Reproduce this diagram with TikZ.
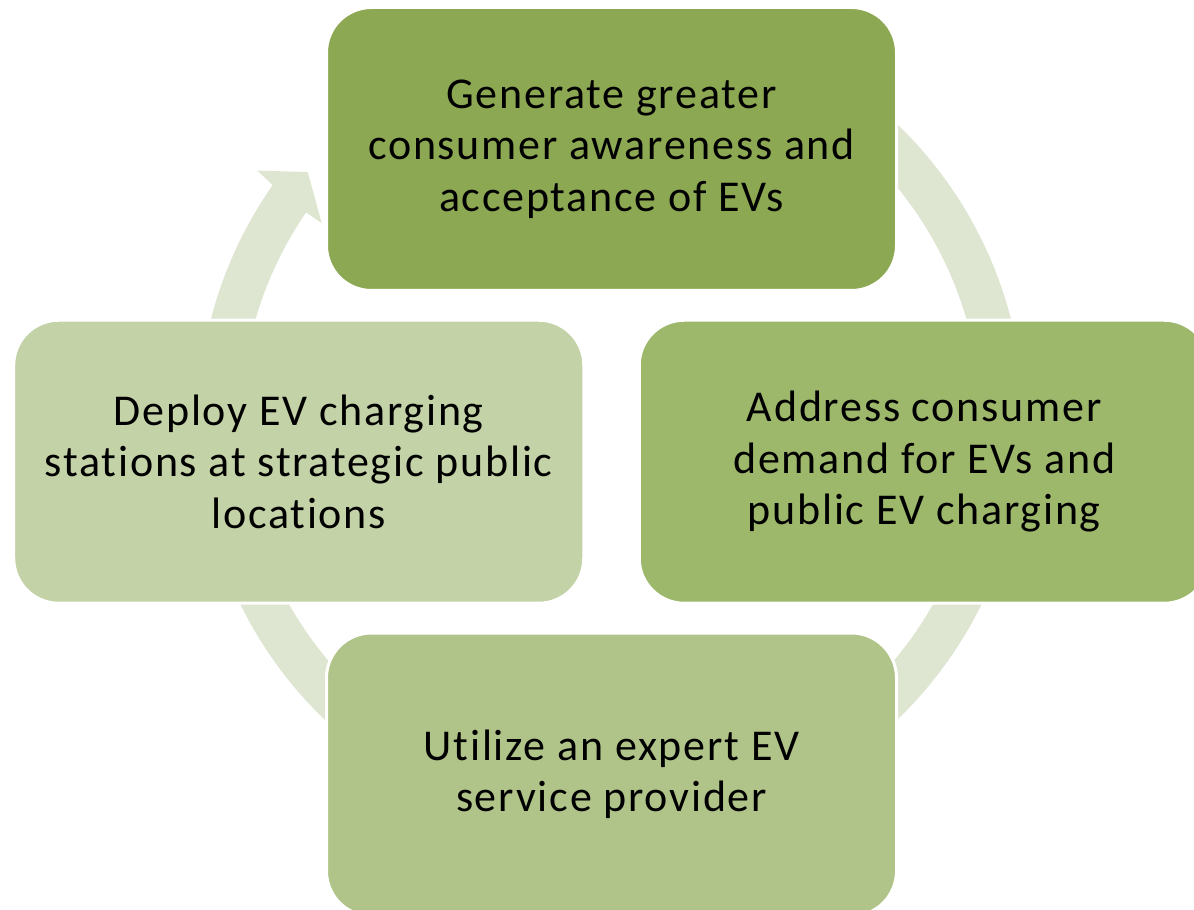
\documentclass[tikz,border=0pt]{standalone}
\usepackage{fontspec}
\setmainfont{Carlito}[Ligatures=NoCommon,LetterSpace=4]
\usetikzlibrary{positioning}
\definecolor{greenA}{HTML}{8DA852}
\definecolor{greenB}{HTML}{9DB76B}
\definecolor{greenC}{HTML}{B0C489}
\definecolor{greenD}{HTML}{C3D2A7}
\definecolor{ringgreen}{HTML}{DEE6D1}

\begin{document}
\begin{tikzpicture}[x=1pt,y=1pt,node distance=442.3pt,
                    cycle box/.style={rectangle,rounded corners=45pt,draw=white,line width=3pt,
                      minimum width=570pt,minimum height=283pt,inner sep=0pt,align=center,
                      font=\fontsize{44}{51.5}\selectfont}]

  \useasboundingbox (0,0) rectangle (1194,910);
  \clip (0,0) rectangle (1194,910);

  \coordinate (hub) at (611,488);
  \begin{scope}[shift={(hub)}]
    \fill[ringgreen] (145:413pt) arc[start angle=145, end angle=420, radius=413pt]
      -- (420:370pt) arc[start angle=420, end angle=145.5, radius=370pt]
      -- (145.5:351pt) -- (140.5:393pt) -- (144.6:434pt) -- cycle;
  \end{scope}

  \node[cycle box,fill=greenA] (aware) at (611.5,761) {Generate greater\\consumer awareness and\\acceptance of EVs};
  \node[cycle box,fill=greenD] (deploy) [below left of=aware] {Deploy EV charging\\stations at strategic public\\locations};
  \node[cycle box,fill=greenB] (demand) [below right of=aware] {Address consumer\\demand for EVs and\\public EV charging};
  \node[cycle box,fill=greenC] (expert) [below right of=deploy] {Utilize an expert EV\\service provider};
\end{tikzpicture}
\end{document}
